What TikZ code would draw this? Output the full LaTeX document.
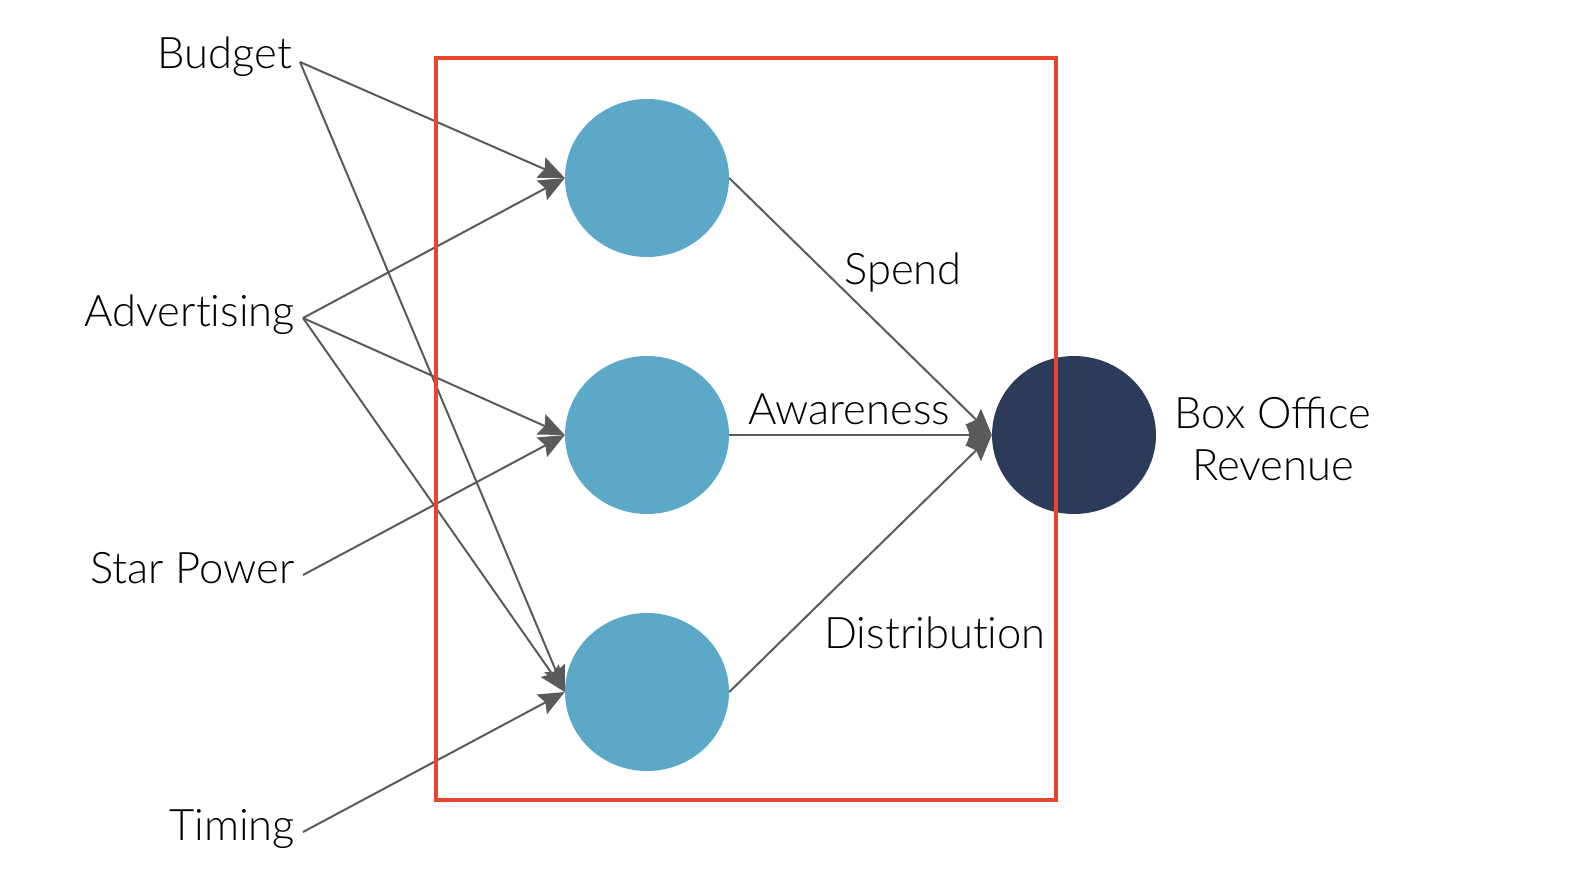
\documentclass[tikz,border=0pt]{standalone}
\usepackage{fontspec}
\setmainfont{Lato Light}
\usetikzlibrary{arrows.meta,shapes.geometric}
\definecolor{hid}{HTML}{5BA8C9}
\definecolor{outc}{HTML}{2D3B5A}
\definecolor{redbox}{HTML}{E8452C}
\definecolor{edgec}{HTML}{5A5A5A}
\begin{document}
\begin{tikzpicture}[x=1pt,y=-1pt,
  lbl/.style={font=\fontsize{43.5}{52}\selectfont, inner sep=0pt},
  hnode/.style={ellipse, fill=hid, minimum width=164, minimum height=158, inner sep=0pt},
  onode/.style={ellipse, fill=outc, minimum width=164, minimum height=158, inner sep=0pt},
  edge/.style={draw=edgec, line width=2, -{Stealth[length=26, width=22, inset=4]}}]
\useasboundingbox (0,0) rectangle (1570,884);
% input labels
\node[lbl, anchor=base east] (budget) at (292,68) {Budget};
\node[lbl, anchor=base east] (adv) at (295,326) {Advert\kern0pt ising};
\node[lbl, anchor=base east] (star) at (295,583) {Star Power};
\node[lbl, anchor=base east] (timing) at (295,840) {Timing};
\coordinate (budgetp) at (300,62);
\coordinate (advp) at (303,318);
\coordinate (starp) at (303,575);
\coordinate (timingp) at (303,832);
% circles
\node[hnode] (h1) at (647,178) {};
\node[hnode] (h2) at (647,435) {};
\node[hnode] (h3) at (647,692) {};
\node[onode] (out) at (1074,435) {};
% edges
\draw[edge] (budgetp) -- (h1.west);
\draw[edge] (budgetp) -- (h3.west);
\draw[edge] (advp) -- (h1.west);
\draw[edge] (advp) -- (h2.west);
\draw[edge] (advp) -- (h3.west);
\draw[edge] (starp) -- (h2.west);
\draw[edge] (timingp) -- (h3.west);
\draw[edge] (h1.east) -- (out.west);
\draw[edge] (h2.east) -- (out.west);
\draw[edge] (h3.east) -- (out.west);
% labels on edges
\node[lbl, anchor=base] (spend) at (903,284) {Spend};
\node[lbl, anchor=base] (aware) at (849,424) {Awareness};
\node[lbl, anchor=base] (distr) at (935,648) {Distribut\kern0pt ion};
\node[lbl, anchor=base, align=center] (box) at (1273,480) {Box Office\\Revenue};
% red box
\node[draw=redbox, line width=4.5, minimum width=620, minimum height=742, inner sep=0pt] (frame) at (746,429) {};
\end{tikzpicture}
\end{document}
